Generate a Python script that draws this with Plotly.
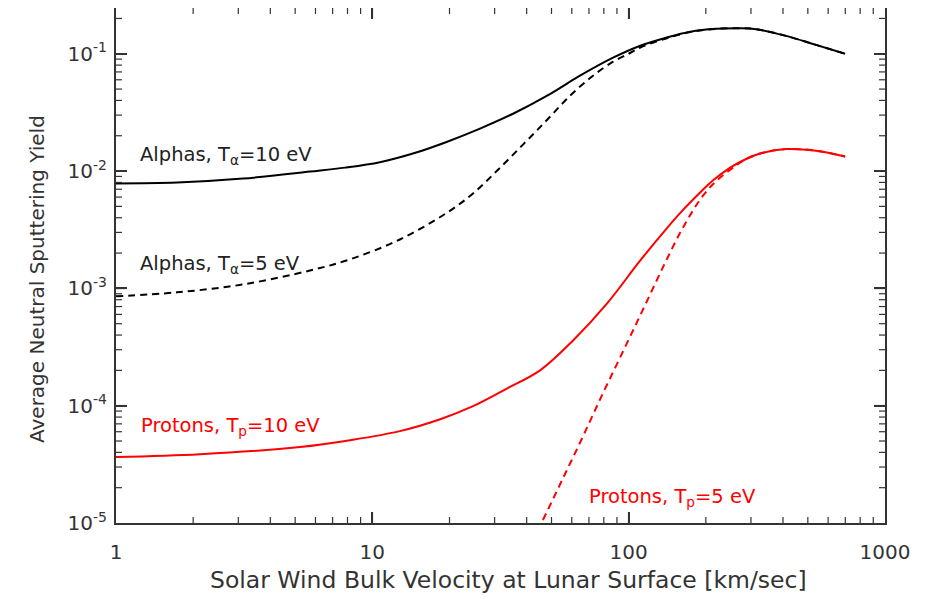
import plotly.graph_objects as go

# ---- data ----
alpha10_v = [1, 1.73, 3.13, 5.71, 7.83, 10.7, 14.4, 19.6, 26.3, 35.4, 48.1, 64.6, 86.9, 111,
             140, 174, 219, 272, 314, 411, 538, 699]
alpha10_y = [7.84e-3, 7.98e-3, 8.63e-3, 9.9e-3, 0.0107, 0.0119, 0.0141, 0.0178, 0.0230, 0.0308,
             0.0439, 0.065, 0.0925, 0.117, 0.137, 0.154, 0.163, 0.165, 0.162, 0.142, 0.119, 0.100]

alpha5_v = [1, 1.73, 3.13, 5.71, 8.19, 12.8, 19.6, 24.7, 30.7, 38.7, 48.1, 59.1, 72.6, 86.9,
            100, 111, 140, 174, 219, 272, 314, 411, 538, 699]
alpha5_y = [8.55e-4, 9.25e-4, 1.08e-3, 1.42e-3, 1.77e-3, 2.61e-3, 4.43e-3, 6.44e-3, 0.0101,
            0.0168, 0.0274, 0.0439, 0.065, 0.0855, 0.100, 0.113, 0.135, 0.153, 0.163, 0.165,
            0.162, 0.142, 0.119, 0.100]

proton10_v = [1, 2.13, 5.22, 8.19, 12.8, 18.4, 24.7, 33.5, 45.1, 60.7, 82.4, 111, 140, 159, 190,
              213, 249, 290, 326, 411, 538, 699]
proton10_y = [3.65e-5, 3.86e-5, 4.44e-5, 5.08e-5, 6.07e-5, 7.67e-5, 9.9e-5, 1.40e-4, 2.0e-4,
              3.6e-4, 7.45e-4, 1.73e-3, 3.2e-3, 4.4e-3, 6.56e-3, 8.3e-3, 0.0107, 0.0128,
              0.0141, 0.0154, 0.0149, 0.0133]

proton5_v = [46.3, 55.5, 66.4, 79.4, 95.1, 113.8, 136, 163, 195, 221, 260, 290, 326, 411, 538, 699]
proton5_y = [1.06e-5, 2.42e-5, 5.5e-5, 1.28e-4, 2.91e-4, 6.62e-4, 1.51e-3, 3.31e-3, 6.18e-3,
             8.3e-3, 0.0110, 0.0128, 0.0141, 0.0154, 0.0149, 0.0133]

x_tickvals = [1, 10, 100, 1000]
x_ticktext = ["1", "10", "100", "1000"]
y_tickvals = [1e-5, 1e-4, 1e-3, 1e-2, 1e-1]
y_ticktext = ["10<sup>-5</sup>", "10<sup>-4</sup>", "10<sup>-3</sup>", "10<sup>-2</sup>", "10<sup>-1</sup>"]

x_range_log = [0, 3]
y_range_log = [-5, -0.61]
x_title = "Solar Wind Bulk Velocity at Lunar Surface [km/sec]"
y_title = "Average Neutral Sputtering Yield"

FONT = "DejaVu Sans"
AX = "#333333"

# minor tick positions (2..9 within each decade), kept inside the axis ranges
x_minor = [m * 10 ** d for d in range(0, 3) for m in range(2, 10)]
y_minor = [m * 10.0 ** d for d in range(-5, 0) for m in range(2, 10) if m * 10.0 ** d < 10 ** y_range_log[1]]

fig = go.Figure()

def add(v, y, color, dash):
    fig.add_trace(go.Scatter(x=v, y=y, mode="lines",
                             line=dict(color=color, width=2, dash=dash, shape="spline", smoothing=1.0),
                             showlegend=False, hoverinfo="skip"))

add(alpha10_v, alpha10_y, "black", "solid")
add(alpha5_v, alpha5_y, "black", "7px,5px")
add(proton10_v, proton10_y, "#ff0000", "solid")
add(proton5_v, proton5_y, "#ff0000", "7px,5px")

labels = [
    ("Alphas, T<sub>α</sub>=10 eV", 0.0858, -1.851, "#222222"),
    ("Alphas, T<sub>α</sub>=5 eV", 0.0858, -2.779, "#222222"),
    ("Protons, T<sub>p</sub>=10 eV", 0.0897, -4.157, "#ff0000"),
    ("Protons, T<sub>p</sub>=5 eV", 1.838, -4.762, "#ff0000"),
]
for txt, lx, ly, col in labels:
    fig.add_annotation(x=lx, y=ly, xref="x", yref="y", text=txt, showarrow=False,
                       xanchor="left", yanchor="middle", yshift=-2,
                       font=dict(family=FONT, size=19.5, color=col))

# axis titles placed as paper annotations (the reference centres them off the plot centre)
fig.add_annotation(x=0.5098, y=-0.1107, xref="paper", yref="paper", text=x_title,
                   showarrow=False, xanchor="center", yanchor="middle",
                   font=dict(family=FONT, size=23.5, color=AX))
fig.add_annotation(x=-0.1027, y=0.4738, xref="paper", yref="paper", text=y_title,
                   showarrow=False, xanchor="center", yanchor="middle", textangle=-90,
                   font=dict(family=FONT, size=20, color=AX))

axis_common = dict(
    type="log", showgrid=False, zeroline=False, automargin=False,
    showline=True, linecolor=AX, linewidth=2, mirror="allticks",
    ticks="inside", ticklen=11, tickwidth=1.5, tickcolor=AX,
    tickfont=dict(family=FONT, size=20, color=AX), tickmode="array",
)

fig.update_xaxes(**axis_common, range=x_range_log, tickvals=x_tickvals, ticktext=x_ticktext,
                 ticklabelstandoff=10)
fig.update_yaxes(**axis_common, range=y_range_log, tickvals=y_tickvals, ticktext=y_ticktext,
                 ticklabelstandoff=3)

# inside tick marks on every side, placed on the axes' own scales
PLOT_W, PLOT_H = 769, 515
MAJ, MIN = 11, 6

def x_tick(v, length, width):
    f = length / PLOT_H
    for y0, y1 in ((0, f), (1, 1 - f)):
        fig.add_shape(type="line", xref="x", yref="y domain", x0=v, x1=v, y0=y0, y1=y1,
                      line=dict(color=AX, width=width))

def y_tick(v, length, width):
    f = length / PLOT_W
    for x0, x1 in ((0, f), (1, 1 - f)):
        fig.add_shape(type="line", xref="x domain", yref="y", x0=x0, x1=x1, y0=v, y1=v,
                      line=dict(color=AX, width=width))

for v in x_tickvals[1:-1]:
    x_tick(v, MAJ, 1.5)
for v in x_minor:
    x_tick(v, MIN, 1.2)
for v in y_tickvals[1:]:
    y_tick(v, MAJ, 1.5)
for v in y_minor:
    y_tick(v, MIN, 1.2)

# the page body adds an 8px offset, so the figure is sized to fit the 936x599 window
fig.update_layout(width=928, height=591, plot_bgcolor="white", paper_bgcolor="white",
                  margin=dict(l=108, r=51, t=0, b=76))

fig.write_html("out.html")
